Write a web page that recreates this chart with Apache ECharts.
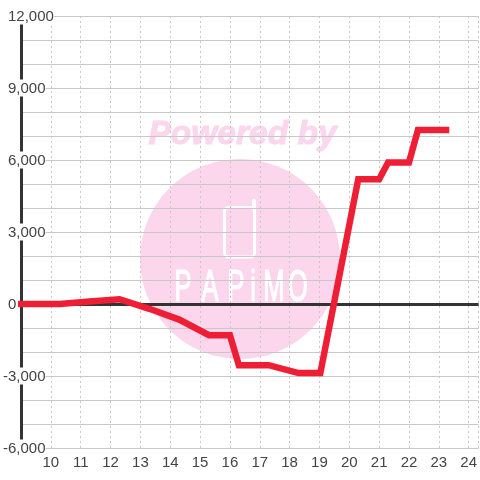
<!DOCTYPE html>
<html>
<head>
<meta charset="utf-8">
<script src="https://cdn.jsdelivr.net/npm/echarts@6/dist/echarts.min.js"></script>
<style>
	html, body { margin: 0; padding: 0; background: #fff; }
	#chart { width: 480px; height: 480px; }
</style>
</head>
<body>
<div id="chart"></div>
<script>
	// hour of day, profit
	var hours = [8.9, 10.3, 11.3, 12.3, 13.3, 14.3, 15.3, 16, 16.3, 17.3, 18.3, 19.03, 20.3, 21, 21.3, 22, 22.3, 23.35];
	var values = [0, 0, 100, 200, -200, -650, -1300, -1300, -2550, -2550, -2880, -2880, 5200, 5200, 5900, 5900, 7250, 7250];
	var yTicks = [12000, 9000, 6000, 3000, 0, -3000, -6000];
	var logoLetters = ['P', 'A', 'P', 'i', 'M', 'O'];
	var logoLetterX = [183, 210, 236, 253, 274, 298];

	var points = [];
	hours.forEach(function(h, i) {
		points.push([h, values[i]]);
	});

	var pink = '#fbd6ec';
	var font = '"Liberation Sans", Arial, sans-serif';

	// 透かしロゴ
	var watermark = [{
		type: 'circle',
		z: -10,
		silent: true,
		shape: { cx: 240, cy: 259, r: 100 },
		style: { fill: pink }
	}, {
		type: 'text',
		z: -10,
		silent: true,
		x: 242.5,
		y: 135,
		style: {
			text: 'Powered by',
			fill: pink,
			stroke: pink,
			lineWidth: 1,
			font: 'italic bold 33.5px ' + font,
			align: 'center',
			verticalAlign: 'middle'
		}
	}, {
		type: 'rect',
		z: -9,
		silent: true,
		shape: { x: 224.5, y: 207.5, width: 30, height: 49.5, r: 4 },
		style: { fill: 'none', stroke: '#fff', lineWidth: 3 }
	}, {
		type: 'line',
		z: -9,
		silent: true,
		shape: { x1: 254, y1: 208, x2: 254, y2: 201 },
		style: { stroke: '#fff', lineWidth: 4, lineCap: 'round' }
	}];
	logoLetters.forEach(function(letter, i) {
		watermark.push({
			type: 'text',
			z: -9,
			silent: true,
			x: logoLetterX[i],
			y: 289,
			scaleX: 0.58,
			style: {
				text: letter,
				fill: '#fff',
				stroke: '#fff',
				lineWidth: 1.2,
				font: '44px ' + font,
				align: 'center',
				verticalAlign: 'middle'
			}
		});
	});

	var chart = echarts.init(document.getElementById('chart'));
	chart.setOption({
		animation: false,
		grid: { left: 20, right: 0, top: 16, bottom: 32 },
		graphic: watermark,
		xAxis: {
			type: 'value',
			min: 9,
			max: 24.3333,
			interval: 1,
			axisLine: { show: false },
			axisTick: { show: false },
			axisLabel: {
				color: '#444',
				fontSize: 15,
				fontFamily: font,
				margin: 7,
				showMinLabel: false,
				showMaxLabel: false
			},
			splitLine: { show: true, lineStyle: { color: '#c8c8c8', type: [2, 3], width: 1 } }
		},
		yAxis: {
			type: 'value',
			min: -6000,
			max: 12000,
			interval: 1000,
			axisLine: { show: true, onZero: false, lineStyle: { color: '#333', width: 3 } },
			axisTick: { show: false },
			axisLabel: {
				color: '#444',
				fontSize: 15,
				fontFamily: font,
				align: 'left',
				margin: 18,
				formatter: function(v) {
					if (yTicks.indexOf(v) < 0) return '';
					var s = v.toString().replace(/\B(?=(\d{3})+$)/g, ',');
					return v < 0 ? '{neg|' + s + '}' : '{pos|' + s + '}';
				},
				rich: {
					neg: { backgroundColor: '#fff', color: '#444', fontSize: 15, lineHeight: 11, padding: [2, 0, 0, 0] },
					pos: { backgroundColor: '#fff', color: '#444', fontSize: 15, lineHeight: 11, padding: [2, 0, 0, 5] }
				}
			},
			splitLine: { show: true, lineStyle: { color: '#c8c8c8', width: 1 } }
		},
		series: [{
			type: 'line',
			data: points,
			showSymbol: false,
			silent: true,
			clip: false,
			z: 5,
			lineStyle: { color: '#ee1f35', width: 6.5, join: 'miter' },
			markLine: {
				silent: true,
				z: 1,
				symbol: 'none',
				label: { show: false },
				lineStyle: { color: '#333', width: 3, type: 'solid' },
				data: [{ yAxis: 0 }]
			}
		}]
	});
</script>
</body>
</html>
